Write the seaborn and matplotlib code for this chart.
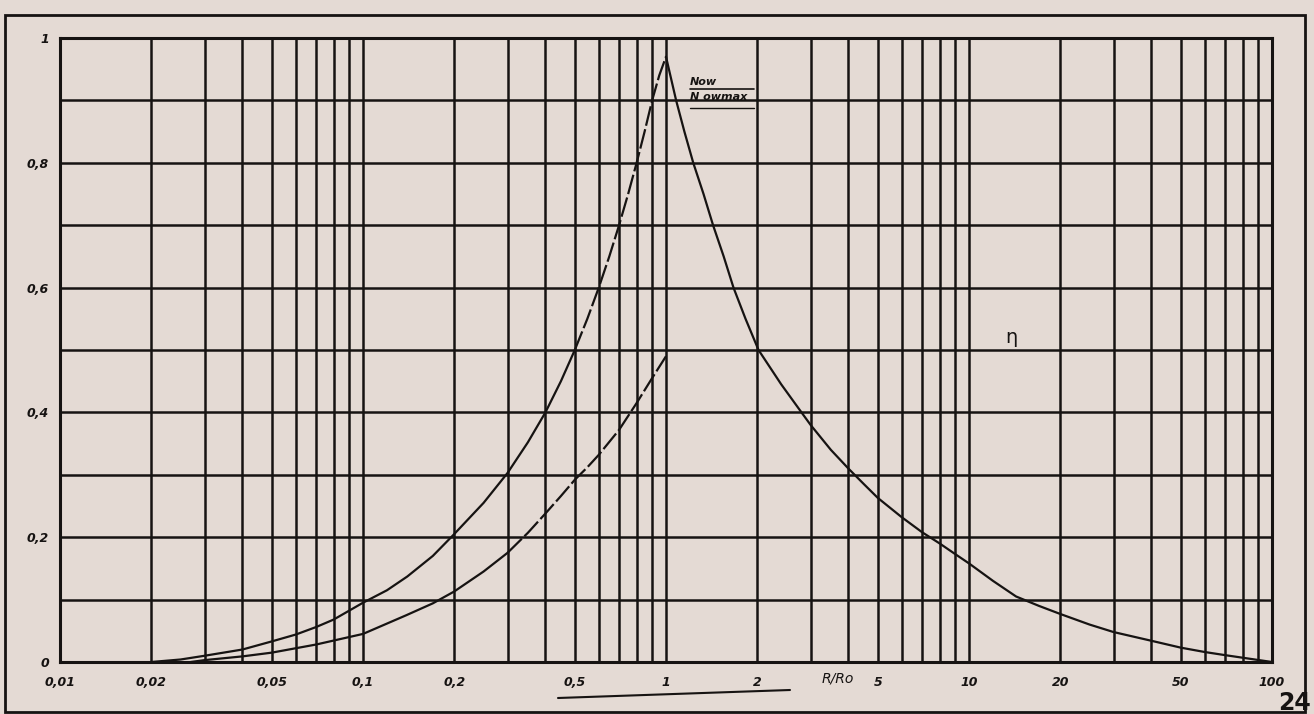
import numpy as np
import pandas as pd
import seaborn as sns
import matplotlib.pyplot as plt
from matplotlib.ticker import LogLocator, FixedLocator, FixedFormatter, NullFormatter
from matplotlib.lines import Line2D
from matplotlib.patches import Rectangle

# values
# upper curve (eta): rising branch, then falling branch
x_rise = [0.02, 0.025, 0.03, 0.04, 0.05, 0.06, 0.07, 0.08, 0.1, 0.12, 0.14, 0.17,
          0.2, 0.25, 0.3, 0.35, 0.4, 0.45, 0.5]
y_rise = [0, 0.004, 0.01, 0.02, 0.033, 0.044, 0.056, 0.068, 0.095, 0.115, 0.137,
          0.17, 0.205, 0.255, 0.303, 0.352, 0.4, 0.45, 0.5]
x_top = [0.5, 0.55, 0.6, 0.65, 0.7, 0.75, 0.8, 0.85, 0.9, 0.95, 1.0]
y_top = [0.5, 0.55, 0.6, 0.65, 0.7, 0.75, 0.8, 0.85, 0.9, 0.94, 0.97]
x_fall = [1.0, 1.08, 1.15, 1.23, 1.33, 1.43, 1.55, 1.67, 1.83, 2.02, 2.4, 2.8, 3.0,
          3.5, 4.0, 4.5, 5, 6, 7, 8, 9, 10, 12, 14.3, 17, 20, 25, 30, 40, 50, 60,
          70, 85, 100]
y_fall = [0.97, 0.9, 0.85, 0.8, 0.75, 0.7, 0.65, 0.6, 0.55, 0.5, 0.445, 0.4, 0.38,
          0.34, 0.31, 0.285, 0.263, 0.232, 0.208, 0.19, 0.173, 0.158, 0.13, 0.105,
          0.09, 0.077, 0.06, 0.048, 0.034, 0.023, 0.016, 0.011, 0.005, 0.0]

# lower curve (N ow / N ow max), solid part then dashed part
x_low_a = [0.027, 0.03, 0.04, 0.05, 0.07, 0.1, 0.139, 0.17, 0.2, 0.25, 0.3]
y_low_a = [0, 0.003, 0.009, 0.015, 0.028, 0.045, 0.075, 0.094, 0.113, 0.145, 0.175]
x_low_b = [0.3, 0.35, 0.4, 0.45, 0.5, 0.55, 0.6, 0.7, 0.8, 0.9, 1.0]
y_low_b = [0.175, 0.207, 0.238, 0.266, 0.292, 0.312, 0.332, 0.372, 0.415, 0.455, 0.49]

x_ticks = [0.01, 0.02, 0.05, 0.1, 0.2, 0.5, 1, 2, 5, 10, 20, 50, 100]
x_labels = ["0,01", "0,02", "0,05", "0,1", "0,2", "0,5", "1", "2", "5", "10", "20", "50", "100"]
y_ticks = [0, 0.2, 0.4, 0.6, 0.8, 1.0]
y_labels = ["0", "0,2", "0,4", "0,6", "0,8", "1"]

paper = "#e4dad4"
ink = "#161312"

parts = [
    ("rise", "solid", x_rise, y_rise),
    ("top", "dashed", x_top, y_top),
    ("fall", "solid", x_fall, y_fall),
    ("low_a", "solid", x_low_a, y_low_a),
    ("low_b", "dashed", x_low_b, y_low_b),
]
df = pd.concat(
    [pd.DataFrame({"R/Ro": xs, "eta": ys, "part": name, "line": style})
     for name, style, xs, ys in parts],
    ignore_index=True,
)

sns.set_style("white")
plt.rcParams["font.family"] = ["DejaVu Sans"]

fig = plt.figure(figsize=(13.14, 7.14), dpi=100, facecolor=paper)
ax = fig.add_axes([60 / 1314, 1 - 662 / 714, 1212 / 1314, 624 / 714])
ax.set_facecolor(paper)

sns.lineplot(
    data=df, x="R/Ro", y="eta", style="line", units="part", estimator=None,
    dashes={"solid": "", "dashed": (9, 1.6)}, color=ink, linewidth=1.6,
    sort=False, legend=False, ax=ax, zorder=5,
)

ax.set_xscale("log")
ax.set_xlim(0.01, 100)
ax.set_ylim(0, 1)

# grid: every log sub-division and every 0.1
ax.xaxis.set_major_locator(FixedLocator(x_ticks))
ax.xaxis.set_major_formatter(FixedFormatter(x_labels))
ax.xaxis.set_minor_locator(LogLocator(base=10, subs=np.arange(2, 10), numticks=20))
ax.xaxis.set_minor_formatter(NullFormatter())
ax.yaxis.set_major_locator(FixedLocator(y_ticks))
ax.yaxis.set_major_formatter(FixedFormatter(y_labels))
ax.yaxis.set_minor_locator(FixedLocator(np.arange(0.1, 1.0, 0.2)))
ax.grid(which="both", color=ink, linewidth=1.8)
ax.set_axisbelow(True)

ax.tick_params(which="both", length=0)
ax.tick_params(axis="x", pad=10, labelsize=9, colors=ink)
ax.tick_params(axis="y", pad=8, labelsize=9, colors=ink)
for lab in ax.get_xticklabels() + ax.get_yticklabels():
    lab.set_fontstyle("italic")
    lab.set_fontweight("bold")

for s in ax.spines.values():
    s.set_color(ink)
    s.set_linewidth(2.2)

ax.set_xlabel("")
ax.set_ylabel("")

# annotations
ax.text(1.2, 0.922, "Now", fontsize=8, fontstyle="italic", fontweight="bold",
        color=ink, ha="left", va="bottom")
ax.text(1.2, 0.913, "N owmax", fontsize=8, fontstyle="italic", fontweight="bold",
        color=ink, ha="left", va="top")
ax.plot([1.2, 1.95], [0.918, 0.918], color=ink, linewidth=1.2)
ax.plot([1.2, 1.95], [0.888, 0.888], color=ink, linewidth=1.0)
ax.text(13.8, 0.52, "η", fontsize=14, color=ink, ha="center", va="center")
ax.text(3.7, -0.016, "R/Ro", fontsize=10, fontstyle="italic", color=ink,
        ha="center", va="top", clip_on=False)

# page frame, scan stroke and page number
fig.patches.append(Rectangle((5 / 1314, 2 / 714), 1300 / 1314, 697 / 714,
                             transform=fig.transFigure, fill=False,
                             edgecolor=ink, linewidth=2))
fig.lines.append(Line2D([558 / 1314, 790 / 1314], [1 - 698 / 714, 1 - 690 / 714],
                        transform=fig.transFigure, color=ink, linewidth=1.5))
fig.text(1311 / 1314, 1 - 703 / 714, "24", fontsize=17, fontweight="bold",
         color=ink, ha="right", va="center")

fig.savefig("out.png", dpi=100, facecolor=paper)
